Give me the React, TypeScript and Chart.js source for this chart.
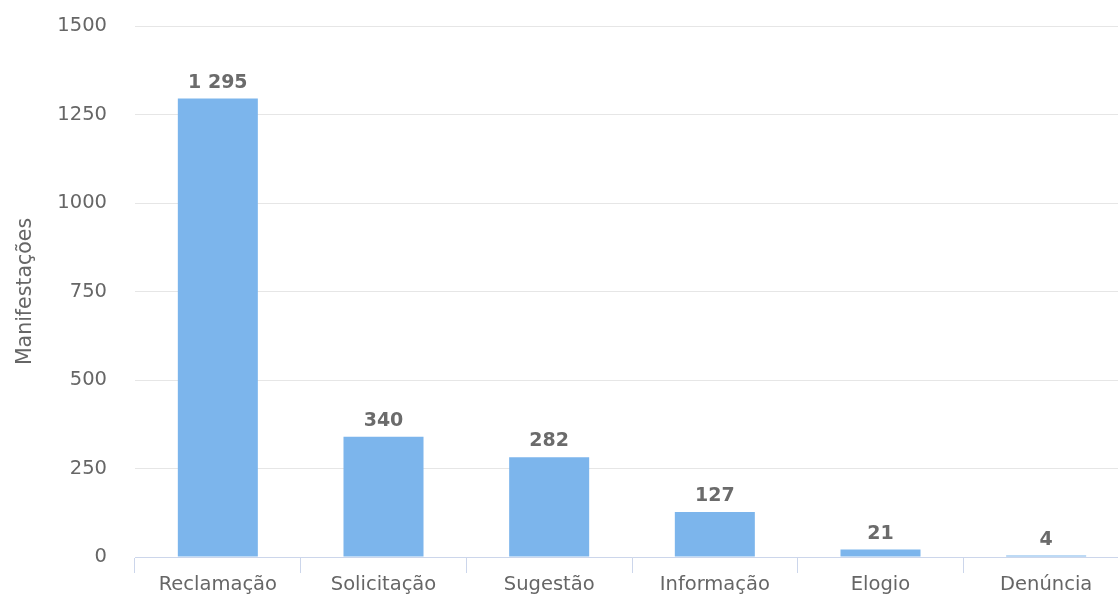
import React, { useEffect, useRef } from "react";
import { Chart, registerables } from "chart.js";

Chart.register(...registerables);

const categories = ["Reclamação", "Solicitação", "Sugestão", "Informação", "Elogio", "Denúncia"];
const values = [1295, 340, 282, 127, 21, 4];
const yTicks = [0, 250, 500, 750, 1000, 1250, 1500];
const yTitle = "Manifestações";

const FONT = "'DejaVu Sans', Verdana, sans-serif";
const BAR_COLOR = "#7cb5ec";
const TEXT_COLOR = "#666666";

function fmt(v: number): string {
  return String(v).replace(/\B(?=(\d{3})+(?!\d))/g, " ");
}

const dataLabels = {
  id: "dataLabels",
  afterDatasetsDraw(chart: any) {
    const ctx = chart.ctx;
    const meta = chart.getDatasetMeta(0);
    ctx.save();
    ctx.font = `bold 19px ${FONT}`;
    ctx.fillStyle = "#6b6b6b";
    ctx.textAlign = "center";
    ctx.textBaseline = "alphabetic";
    meta.data.forEach((bar: any, i: number) => {
      const v = chart.data.datasets[0].data[i] as number;
      ctx.fillText(fmt(v), bar.x, bar.y - 11);
    });
    ctx.restore();
  },
};

export default function App() {
  const ref = useRef<HTMLCanvasElement>(null);
  useEffect(() => {
    if (!ref.current) return;
    const chart = new Chart(ref.current, {
      type: "bar",
      data: {
        labels: categories,
        datasets: [
          {
            data: values,
            backgroundColor: BAR_COLOR,
            borderWidth: 0,
            barPercentage: 1,
            categoryPercentage: 0.483,
          },
        ],
      },
      options: {
        animation: false,
        responsive: true,
        maintainAspectRatio: false,
        layout: { padding: { top: 26, right: 11, bottom: 0, left: 0 } },
        plugins: {
          legend: { display: false },
          tooltip: { enabled: false },
        },
        scales: {
          x: {
            offset: true,
            grid: {
              offset: true,
              drawOnChartArea: false,
              drawTicks: true,
              tickLength: 16,
              color: "#ccd6eb",
            },
            border: { display: true, color: "#ccd6eb", width: 1 },
            ticks: {
              color: TEXT_COLOR,
              font: { family: FONT, size: 19.5 },
              padding: 0,
              maxRotation: 0,
              autoSkip: false,
            },
            afterFit: (s: any) => {
              s.height = 40;
            },
          },
          y: {
            min: 0,
            max: 1500,
            afterBuildTicks: (s: any) => {
              s.ticks = yTicks.map((v) => ({ value: v }));
            },
            grid: {
              color: "#e6e6e6",
              drawTicks: true,
              tickLength: 28,
              tickColor: "rgba(0,0,0,0)",
              lineWidth: 1,
            },
            border: { display: false },
            ticks: {
              color: TEXT_COLOR,
              font: { family: FONT, size: 19.5 },
              padding: 0,
              callback: (v: any) => String(v),
            },
            title: {
              display: true,
              text: yTitle,
              color: TEXT_COLOR,
              font: { family: FONT, size: 20.5 },
              padding: { top: 13, bottom: 0 },
            },
            afterFit: (s: any) => {
              s.width = 135;
            },
          },
        },
      },
      plugins: [dataLabels],
    });
    return () => chart.destroy();
  }, []);

  return (
    <div
      style={{
        position: "fixed",
        left: 0,
        top: 0,
        width: 1118,
        height: 597,
        overflow: "hidden",
        background: "#ffffff",
      }}
    >
      <div style={{ position: "relative", width: 1140, height: 597 }}>
        <canvas ref={ref} />
      </div>
    </div>
  );
}
